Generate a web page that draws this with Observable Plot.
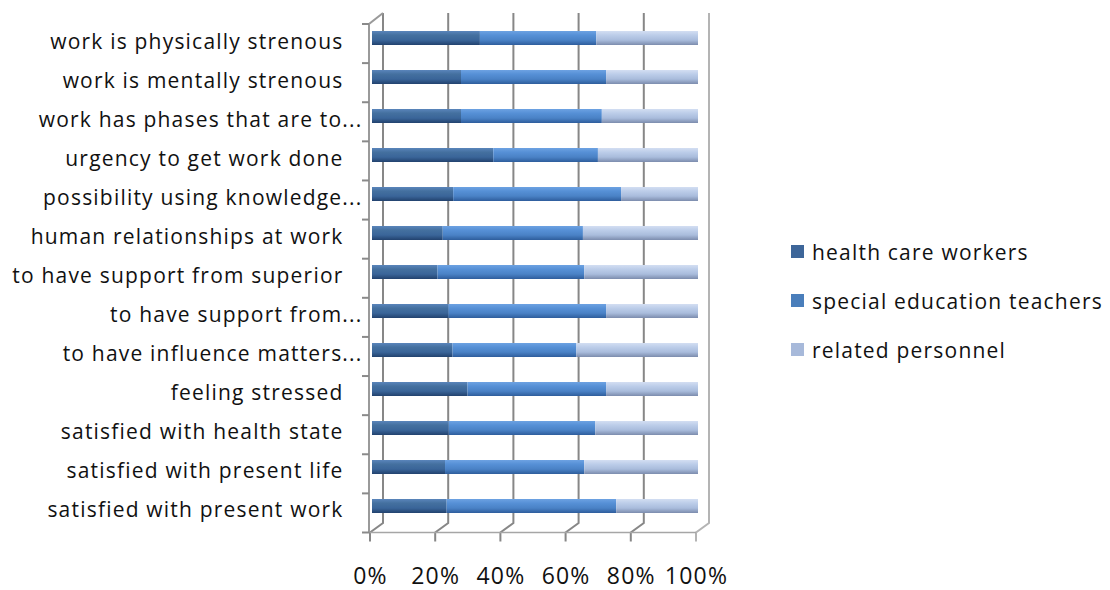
<!DOCTYPE html>
<html>
<head>
<meta charset="utf-8">
<script src="https://cdn.jsdelivr.net/npm/d3@7"></script>
<script src="https://cdn.jsdelivr.net/npm/@observablehq/plot@0.6"></script>
<style>
  html, body { margin: 0; padding: 0; background: #fff; }
  #wrap { position: relative; width: 1110px; height: 590px; overflow: hidden; font-family: "Open Sans", sans-serif; }
  #chart { position: absolute; left: 0; top: 0; }
  #legend { position: absolute; left: 791px; top: 227px; font-size: 21px; letter-spacing: 1.2px; color: #111; }
  .item { display: flex; align-items: center; height: 49px; }
  .sw { width: 13px; height: 13px; margin-right: 8px; }
</style>
</head>
<body>
<div id="wrap">
  <div id="chart"></div>
  <div id="legend"></div>
</div>
<script>
// ---- data ----
const categories = [
  "work is physically strenous",
  "work is mentally strenous",
  "work has phases that are to...",
  "urgency to get work done",
  "possibility using knowledge...",
  "human relationships at work",
  "to have support from superior",
  "to have support from...",
  "to have influence matters...",
  "feeling stressed",
  "satisfied with health state",
  "satisfied with present life",
  "satisfied with present work"
];
const seriesNames = ["health care workers", "special education teachers", "related personnel"];
const healthCareWorkers        = [33.1, 27.3, 27.3, 37.2, 24.9, 21.7, 20.1, 23.4, 24.7, 29.3, 23.5, 22.4, 22.9];
const specialEducationTeachers = [35.7, 44.5, 43.2, 32.1, 51.5, 43.0, 45.0, 48.4, 38.0, 42.5, 45.0, 42.7, 52.0];
const relatedPersonnel         = [31.2, 28.2, 29.5, 30.7, 23.6, 35.3, 34.9, 28.2, 37.3, 28.2, 31.5, 34.9, 25.1];
const xTicks = [0, 0.2, 0.4, 0.6, 0.8, 1];
const xTickLabels = ["0%", "20%", "40%", "60%", "80%", "100%"];

const seriesValues = [healthCareWorkers, specialEducationTeachers, relatedPersonnel];
const rows = [];
categories.forEach((c, i) => seriesNames.forEach((s, j) => rows.push({category: c, series: s, value: seriesValues[j][i]})));

const legendColors = ["#3d6699", "#4a7ebb", "#a7b9da"];
const gradients = [
  ["#5a85bb", "#44709f", "#3a6599", "#22426e"],
  ["#6da2e2", "#5690d6", "#4a82c6", "#2e5d9c"],
  ["#d3def2", "#bccde9", "#a9bcdc", "#7c8cad"]
];

function defs() {
  const d = d3.create("svg:defs");
  gradients.forEach((stops, i) => {
    const g = d.append("linearGradient").attr("id", "g" + i)
      .attr("x1", 0).attr("y1", 0).attr("x2", 0).attr("y2", 1);
    [0, 0.3, 0.65, 1].forEach((o, k) => g.append("stop").attr("offset", o).attr("stop-color", stops[k]));
  });
  return d.node();
}

function frame(index, scales, values, dims) {
  const X = scales.x;
  const top = dims.marginTop, bot = dims.height - dims.marginBottom;
  const step = (bot - top) / categories.length;
  const g = d3.create("svg:g").attr("fill", "none");
  const backDx = 11, frontDx = -2, backTop = top - 5, backBot = bot - 3.5, frontY = bot + 6;
  xTicks.forEach((t, i) => {
    const xb = X(t) + backDx, xf = X(t) + frontDx;
    g.append("path")
      .attr("d", `M${xb},${backTop}V${backBot}L${xf},${frontY}V${frontY + 9}`)
      .attr("stroke", i === xTicks.length - 1 ? "#b4b4b4" : "#878787")
      .attr("stroke-width", 2);
  });
  g.append("path").attr("d", `M${X(0) + frontDx},${frontY}H${X(1) + frontDx}`)
    .attr("stroke", "#a6a6a6").attr("stroke-width", 1.5);
  const lx = X(0) - 3;
  g.append("path").attr("d", `M${X(0) + backDx},${backTop}L${lx},${top + 6}V${frontY}`)
    .attr("stroke", "#9a9a9a").attr("stroke-width", 2);
  for (let k = 0; k <= categories.length; k++) {
    const y = top + 6 + k * step;
    g.append("path").attr("d", `M${lx - 7},${y}H${lx}`).attr("stroke", "#8a8a8a").attr("stroke-width", 2);
  }
  return g.node();
}

const plot = Plot.plot({
  width: 760,
  height: 590,
  marginLeft: 372,
  marginRight: 62,
  marginTop: 18,
  marginBottom: 63.5,
  style: {fontFamily: "Open Sans, sans-serif", background: "transparent", letterSpacing: "1.2px"},
  x: {domain: [0, 1], axis: null},
  y: {domain: categories, paddingInner: 0.64, paddingOuter: 0.32, axis: null},
  color: {domain: seriesNames, range: ["url(#g0)", "url(#g1)", "url(#g2)"]},
  marks: [
    defs,
    frame,
    Plot.barX(rows, Plot.stackX({x: "value", y: "category", fill: "series", offset: "normalize", order: seriesNames})),
    Plot.text(categories.filter(c => !c.endsWith("...")), {x: 0, y: d => d, text: d => d, textAnchor: "end", dx: -29, dy: 3.5, fontSize: 21, fill: "#111"}),
    Plot.text(categories.filter(c => c.endsWith("...")), {x: 0, y: d => d, text: d => d, textAnchor: "end", dx: -10, dy: 3.5, fontSize: 21, fill: "#111"}),
    Plot.text(xTicks, {x: d => d, frameAnchor: "bottom", text: (d, i) => xTickLabels[i], dx: -2, dy: 57, fontSize: 23, fill: "#111"})
  ]
});
document.getElementById("chart").appendChild(plot);

const legend = document.getElementById("legend");
seriesNames.forEach((s, i) => {
  const item = document.createElement("div");
  item.className = "item";
  const sw = document.createElement("div");
  sw.className = "sw";
  sw.style.background = legendColors[i];
  const label = document.createElement("span");
  label.textContent = s;
  item.appendChild(sw);
  item.appendChild(label);
  legend.appendChild(item);
});
</script>
</body>
</html>
